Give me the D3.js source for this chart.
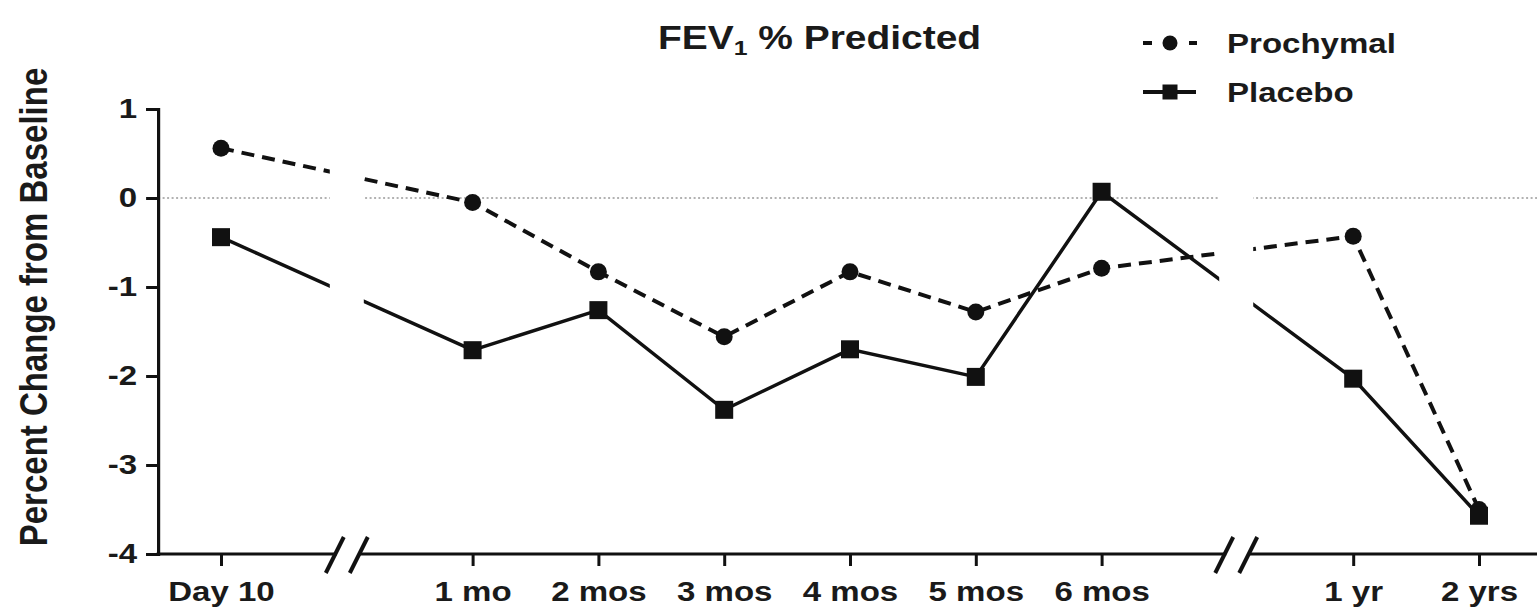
<!DOCTYPE html>
<html>
<head>
<meta charset="utf-8">
<script src="https://cdn.jsdelivr.net/npm/d3@7"></script>
<style>
  body { margin: 0; background: #fff; }
  svg { display: block; }
  text { font-family: "Liberation Sans", Arial, sans-serif; font-weight: bold; fill: #1a1a1a; }
</style>
</head>
<body>
<svg width="1537" height="611"></svg>
<script>
// time points on the x axis (slot = position along the broken axis)
const timeLabels = ["Day 10", "1 mo", "2 mos", "3 mos", "4 mos", "5 mos", "6 mos", "1 yr", "2 yrs"];
const timeSlots = [0, 2, 3, 4, 5, 6, 7, 9, 10];

// percent change from baseline, FEV1 % predicted
const prochymal = [0.56, -0.05, -0.83, -1.56, -0.83, -1.28, -0.79, -0.43, -3.50];
const placebo = [-0.44, -1.71, -1.26, -2.38, -1.70, -2.01, 0.07, -2.03, -3.57];

const yTicks = [1, 0, -1, -2, -3, -4];
const axisBreaks = [1.0, 8.07];

const stretch = 1.18; // the figure text is wider than plain Arial bold

const svg = d3.select("svg");

const x = d3.scaleLinear().domain([0, 10]).range([221, 1479]);
const y = d3.scaleLinear().domain([-4, 1]).range([554, 109]);

// zero reference line
svg.append("line")
    .attr("x1", x(-0.5)).attr("x2", 1537)
    .attr("y1", y(0)).attr("y2", y(0))
    .attr("stroke", "#999")
    .attr("stroke-width", 1.6)
    .attr("stroke-dasharray", "2,2.5");

const line = d3.line()
    .x(function(d, i) { return x(timeSlots[i]); })
    .y(function(d) { return y(d); });

// series lines
svg.append("path")
    .datum(placebo)
    .attr("d", line)
    .attr("fill", "none")
    .attr("stroke", "#111")
    .attr("stroke-width", 3.5);

svg.append("path")
    .datum(prochymal)
    .attr("d", line)
    .attr("fill", "none")
    .attr("stroke", "#111")
    .attr("stroke-width", 4)
    .attr("stroke-dasharray", "13,8");

// white gaps where the axis is broken
svg.selectAll(".gap")
    .data(axisBreaks)
    .enter().append("rect")
    .attr("class", "gap")
    .attr("x", function(d) { return x(d) - 17; })
    .attr("width", 34)
    .attr("y", 90)
    .attr("height", 455)
    .attr("fill", "#fff");

// markers
svg.selectAll(".dot")
    .data(prochymal)
    .enter().append("circle")
    .attr("class", "dot")
    .attr("cx", function(d, i) { return x(timeSlots[i]); })
    .attr("cy", function(d) { return y(d); })
    .attr("r", 8.5)
    .attr("fill", "#111");

svg.selectAll(".sq")
    .data(placebo)
    .enter().append("rect")
    .attr("class", "sq")
    .attr("x", function(d, i) { return x(timeSlots[i]) - 9; })
    .attr("y", function(d) { return y(d) - 9; })
    .attr("width", 18)
    .attr("height", 18)
    .attr("fill", "#111");

// y axis
const yAxis = svg.append("g")
    .attr("transform", "translate(" + x(-0.5) + ",0)")
    .call(d3.axisLeft(y).tickValues(yTicks)
        .tickFormat(function(d) { return String(d); })
        .tickSize(12).tickPadding(9));
yAxis.select(".domain").attr("stroke-width", 3.2).attr("stroke", "#111");
yAxis.selectAll(".tick line").attr("stroke-width", 3).attr("stroke", "#111");
yAxis.selectAll(".tick text")
    .attr("font-size", 28)
    .attr("x", -21 / stretch)
    .attr("transform", "scale(" + stretch + ",1)");

// x axis with breaks
const xAxis = svg.append("g")
    .attr("transform", "translate(0," + y(-4) + ")")
    .call(d3.axisBottom(x).tickValues(timeSlots)
        .tickFormat(function(d, i) { return timeLabels[i]; })
        .tickSize(12).tickPadding(15));
xAxis.select(".domain").remove();
xAxis.selectAll(".tick line").attr("stroke-width", 3).attr("stroke", "#111");
xAxis.selectAll(".tick text")
    .attr("font-size", 28)
    .attr("transform", "scale(" + stretch + ",1)");

const segs = [
    [x(-0.5) - 1.5, x(axisBreaks[0]) - 10],
    [x(axisBreaks[0]) + 12, x(axisBreaks[1]) - 10],
    [x(axisBreaks[1]) + 12, 1537]
];
xAxis.selectAll(".seg")
    .data(segs)
    .enter().append("line")
    .attr("class", "seg")
    .attr("x1", function(d) { return d[0]; })
    .attr("x2", function(d) { return d[1]; })
    .attr("stroke", "#111")
    .attr("stroke-width", 3.2);

// break slashes
const slashes = [];
axisBreaks.forEach(function(b) {
    slashes.push(x(b) - 12, x(b) + 12);
});
xAxis.selectAll(".slash")
    .data(slashes)
    .enter().append("line")
    .attr("class", "slash")
    .attr("x1", function(d) { return d - 9; })
    .attr("y1", 19)
    .attr("x2", function(d) { return d + 9; })
    .attr("y2", -17)
    .attr("stroke", "#111")
    .attr("stroke-width", 4);

// y label
svg.append("text")
    .attr("transform", "translate(47,307) scale(" + stretch + ",1) rotate(-90)")
    .attr("text-anchor", "middle")
    .attr("font-size", 33)
    .text("Percent Change from Baseline");

// title
const title = svg.append("text")
    .attr("transform", "translate(658,49) scale(" + stretch + ",1)")
    .attr("font-size", 33);
title.append("tspan").text("FEV");
title.append("tspan").attr("font-size", 21).attr("dy", 6).text("1");
title.append("tspan").attr("dy", -6).text(" % Predicted");

// legend
const legend = [
    { name: "Prochymal", y: 43, dashed: true },
    { name: "Placebo", y: 92, dashed: false }
];

const lg = svg.selectAll(".legend")
    .data(legend)
    .enter().append("g")
    .attr("class", "legend")
    .attr("transform", function(d) { return "translate(1170," + d.y + ")"; });

lg.append("line")
    .attr("x1", -27)
    .attr("x2", function(d) { return d.dashed ? 27 : 26; })
    .attr("stroke", "#111")
    .attr("stroke-width", 4)
    .attr("stroke-dasharray", function(d) { return d.dashed ? "9,37,8,100" : null; });

lg.append("circle")
    .filter(function(d) { return d.dashed; })
    .attr("r", 7.5)
    .attr("fill", "#111");

lg.append("rect")
    .filter(function(d) { return !d.dashed; })
    .attr("x", -7.5).attr("y", -7.5)
    .attr("width", 15).attr("height", 15)
    .attr("fill", "#111");

lg.append("text")
    .attr("transform", "translate(57,10) scale(" + stretch + ",1)")
    .attr("font-size", 28)
    .text(function(d) { return d.name; });
</script>
</body>
</html>
